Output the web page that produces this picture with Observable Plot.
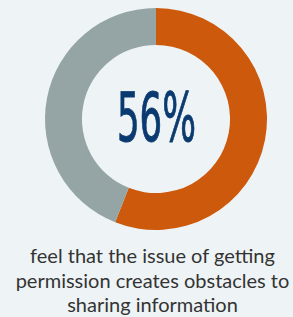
<!DOCTYPE html>
<html>
<head>
<meta charset="utf-8">
<script src="https://cdn.jsdelivr.net/npm/d3@7"></script>
<script src="https://cdn.jsdelivr.net/npm/@observablehq/plot@0.6"></script>
<style>
  html, body { margin: 0; padding: 0; background: #EEF3F6; }
  #chart { width: 293px; }
  #chart svg { display: block; }
  .caption {
    font-family: Lato, "Open Sans", sans-serif;
    font-size: 20px;
    line-height: 24.5px;
    color: #333333;
    text-align: center;
    margin-top: 3px;
    padding-left: 12px;
    white-space: nowrap;
  }
</style>
</head>
<body>
<div id="chart"></div>
<script>
const categories = ["Agree", "Other"];
const values = [56, 44];
const colors = ["#CD5A0C", "#95A5A6"];
const centerLabel = "56%";
const captionLines = [
  "feel that the issue of getting",
  "permission creates obstacles to",
  "sharing information"
];

const data = categories.map((c, i) => ({category: c, value: values[i]}));

function donutMark(index, scales, vals, dimensions) {
  const {width, height, marginLeft, marginRight, marginTop, marginBottom} = dimensions;
  const fw = width - marginLeft - marginRight;
  const fh = height - marginTop - marginBottom;
  const cx = marginLeft + fw / 2;
  const cy = marginTop + fh / 2;
  const r = Math.min(fw, fh) / 2;
  const pie = d3.pie().sort(null).value(d => d.value);
  const arc = d3.arc().innerRadius(r * 0.667).outerRadius(r);
  const g = d3.create("svg:g").attr("transform", `translate(${cx},${cy})`);
  g.selectAll("path")
    .data(pie(data))
    .join("path")
    .attr("d", arc)
    .attr("fill", d => scales.color(d.data.category));
  return g.node();
}

const plot = Plot.plot({
  width: 293,
  height: 240,
  marginLeft: 45,
  marginRight: 26,
  marginTop: 8,
  marginBottom: 10,
  style: {background: "transparent"},
  color: {domain: categories, range: colors},
  marks: [
    donutMark,
    Plot.text([centerLabel], {
      text: d => d,
      frameAnchor: "middle",
      fill: "#0A3A70",
      stroke: "#0A3A70",
      strokeWidth: 0.9,
      fontSize: 68,
      fontWeight: "normal",
      fontFamily: "'DejaVu Sans Condensed', 'Liberation Sans Narrow', sans-serif",
      dy: 0
    })
  ]
});

d3.select(plot).selectAll("text")
  .filter(function() { return this.textContent === centerLabel; })
  .attr("textLength", 79)
  .attr("lengthAdjust", "spacingAndGlyphs");

document.getElementById("chart").appendChild(plot);

const cap = document.createElement("div");
cap.className = "caption";
captionLines.forEach(t => {
  const d = document.createElement("div");
  d.textContent = t;
  cap.appendChild(d);
});
document.getElementById("chart").appendChild(cap);
</script>
</body>
</html>
